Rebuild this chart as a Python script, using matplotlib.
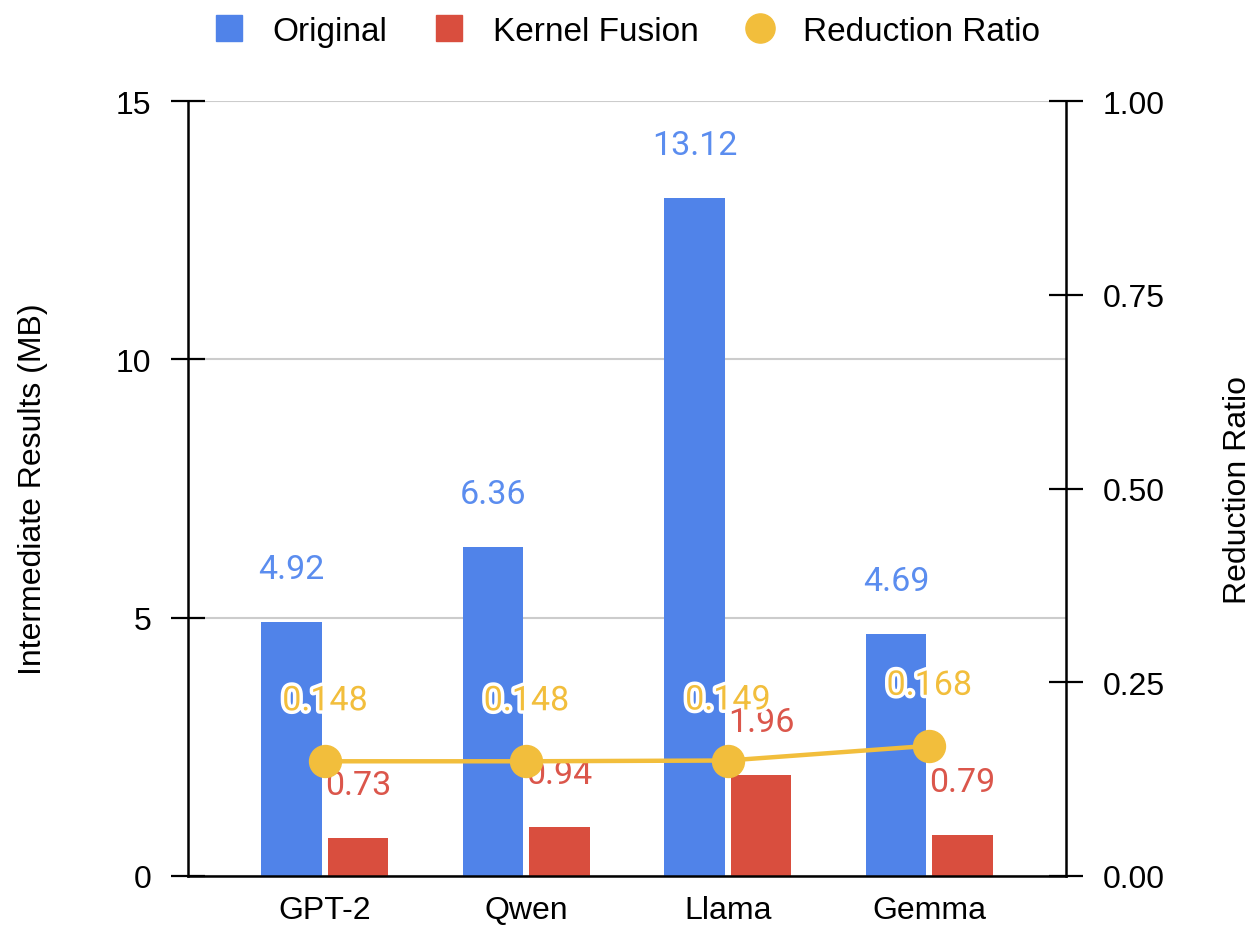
import matplotlib
matplotlib.use("Agg")
import matplotlib.pyplot as plt
import matplotlib.patheffects as pe
from matplotlib.lines import Line2D
import numpy as np

models = ["GPT-2", "Qwen", "Llama", "Gemma"]
original_mb = [4.92, 6.36, 13.12, 4.69]
fusion_mb = [0.73, 0.94, 1.96, 0.79]
reduction_ratio = [0.148, 0.148, 0.149, 0.168]
left_ticks = [0, 5, 10, 15]
right_ticks = [0.00, 0.25, 0.50, 0.75, 1.00]

BLUE = "#5083E9"
RED = "#D94E3E"
YELLOW = "#F2BE3C"
BLUE_TXT = "#5B8DEF"
RED_TXT = "#DB564B"
YELLOW_TXT = "#F2BE3C"

AX_FONT = "Liberation Sans"
LBL_FONT = "Roboto"
AX_SIZE = 23
LBL_SIZE = 24.5

fig = plt.figure(figsize=(12.53, 9.28), dpi=100)
ax = fig.add_axes([0.150, 0.055, 0.701, 0.835])
ax2 = ax.twinx()

x = np.arange(len(models))
w = 0.30
gap = 0.015

bars_o = ax.bar(x - w / 2 - gap, original_mb, w, color=BLUE, zorder=2)
bars_f = ax.bar(x + w / 2 + gap, fusion_mb, w, color=RED, zorder=2)

for b, v in zip(bars_o, original_mb):
    ax.annotate(f"{v:.2f}", (b.get_x() + b.get_width() / 2, v),
                xytext=(0, 53), textcoords="offset pixels",
                ha="center", va="center", color=BLUE_TXT,
                fontsize=LBL_SIZE, family=LBL_FONT, zorder=3)
for b, v in zip(bars_f, fusion_mb):
    ax.annotate(f"{v:.2f}", (b.get_x() + b.get_width() / 2, v),
                xytext=(0, 53), textcoords="offset pixels",
                ha="center", va="center", color=RED_TXT,
                fontsize=LBL_SIZE, family=LBL_FONT, zorder=3)

ax.set_xlim(-0.68, 3.68)
ax.set_ylim(0, 15)
ax.set_yticks(left_ticks)
ax.set_yticklabels([str(t) for t in left_ticks], family=AX_FONT, fontsize=AX_SIZE)
ax.set_xticks(x)
ax.set_xticklabels(models, family=AX_FONT, fontsize=AX_SIZE)
ax.tick_params(axis="x", length=0, pad=14)
ax.tick_params(axis="y", direction="inout", length=24.5, width=1.6, pad=14)
ax.yaxis.grid(True, color="#CCCCCC", linewidth=1.5, zorder=0)
ax.set_axisbelow(True)
for s in ["top", "right"]:
    ax.spines[s].set_visible(False)
ax.spines["left"].set_linewidth(1.8)
ax.spines["bottom"].set_linewidth(1.8)
ax.set_ylabel("Intermediate Results (MB)", family=AX_FONT, fontsize=AX_SIZE, labelpad=49)

ax2.plot(x, reduction_ratio, color=YELLOW, linewidth=3.2, marker="o",
         markersize=23, markerfacecolor=YELLOW, markeredgecolor=YELLOW, zorder=4)
for xi, v in zip(x, reduction_ratio):
    ax2.annotate(f"{v:.3f}", (xi, v), xytext=(0, 60), textcoords="offset pixels",
                 ha="center", va="center", color=YELLOW_TXT, fontsize=LBL_SIZE,
                 family=LBL_FONT, zorder=5,
                 path_effects=[pe.withStroke(linewidth=5, foreground="white")])

ax2.set_ylim(0, 1.0)
ax2.set_yticks(right_ticks)
ax2.set_yticklabels([f"{t:.2f}" for t in right_ticks], family=AX_FONT, fontsize=AX_SIZE)
ax2.tick_params(axis="y", direction="inout", length=24.5, width=1.6, pad=14)
for s in ["top", "left", "bottom"]:
    ax2.spines[s].set_visible(False)
ax2.spines["right"].set_linewidth(1.8)
ax2.set_ylabel("Reduction Ratio", family=AX_FONT, fontsize=AX_SIZE, labelpad=42)

handles = [
    Line2D([], [], marker="s", linestyle="none", markersize=19,
           markerfacecolor=BLUE, markeredgecolor=BLUE),
    Line2D([], [], marker="s", linestyle="none", markersize=19,
           markerfacecolor=RED, markeredgecolor=RED),
    Line2D([], [], marker="o", linestyle="none", markersize=21,
           markerfacecolor=YELLOW, markeredgecolor=YELLOW),
]
fig.legend(handles, ["Original", "Kernel Fusion", "Reduction Ratio"],
           loc="center", bbox_to_anchor=(0.5, 0.965), ncol=3, frameon=False,
           prop={"family": AX_FONT, "size": 24}, handletextpad=0.8,
           columnspacing=1.35, handlelength=1.0)

fig.savefig("out.png", dpi=100, facecolor="white")
